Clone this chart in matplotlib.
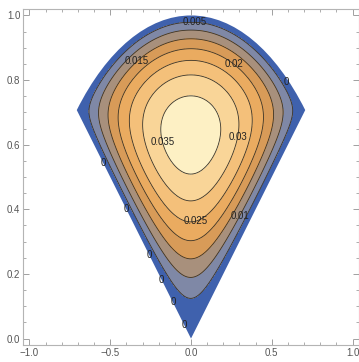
import numpy as np
import matplotlib.pyplot as plt
from matplotlib.patches import Wedge
from matplotlib.ticker import MultipleLocator

plt.rcParams['font.family'] = ['Liberation Sans', 'DejaVu Sans']

# contour levels and the band colours between them (last band is above 0.035)
levels = [0.0, 0.005, 0.01, 0.015, 0.02, 0.025, 0.03, 0.035]
band_colors = ['#3f61ad', '#7f88a6', '#a8907c', '#d89b58',
               '#eaab60', '#f4c07a', '#f9d598', '#fdf0c4']

# -(a*u_xx + u_yy) + c*u = q on the sector 45..135 deg of the unit disk,
# u = 0 on the edge
a = 3.0
c = 16.0
q = 1.63
h = 1 / 250

# label placement for each level
label_pos = {
    0.005: (0.025, 0.981),
    0.01: (0.32, 0.375),
    0.015: (-0.316, 0.848),
    0.02: (0.26, 0.845),
    0.025: (0.04, 0.337),
    0.03: (0.334, 0.619),
    0.035: (-0.19, 0.607),
}
zero_label_r = [0.77, 0.567, 0.364, 0.257, 0.159, 0.06]
zero_arc_deg = 53.2


def cg(apply, b, iters=10000):
    x = np.zeros_like(b)
    r = b - apply(x)
    p = r.copy()
    rs = (r * r).sum()
    for _ in range(iters):
        Ap = apply(p)
        al = rs / (p * Ap).sum()
        x += al * p
        r -= al * Ap
        rn = (r * r).sum()
        if rn < 1e-22:
            break
        p = r + rn / rs * p
        rs = rn
    return x


xs = np.arange(-0.72, 0.72 + h / 2, h)
ys = np.arange(0, 1 + 2 * h, h)
X, Y = np.meshgrid(xs, ys)
inside = (((X**2 + Y**2) < 1) & (Y > np.abs(X))).astype(float)


def operator(v):
    v = v * inside
    w = np.pad(v, 1)
    lx = w[1:-1, 2:] - 2 * v + w[1:-1, :-2]
    ly = w[2:, 1:-1] - 2 * v + w[:-2, 1:-1]
    return (-(a * lx + ly) / h**2 + c * v) * inside


u = cg(operator, q * inside)
u = np.clip(u, 0, None)

fig = plt.figure(figsize=(3.59, 3.62), dpi=100)
ax = fig.add_axes([23 / 359, 17 / 362, 336 / 359, 336 / 362])

sector = Wedge((0, 0), 1, 45, 135, facecolor='none', edgecolor='none')
ax.add_patch(sector)
cf = ax.contourf(X, Y, u, levels=levels + [u.max() + 1], colors=band_colors)
cf.set_clip_path(sector)

ax.set_xlim(-1.04, 1.04)
ax.set_ylim(-0.02, 1.02)

# one line set per level so each label lands on its own curve
for lev, pos in label_pos.items():
    cs = ax.contour(X, Y, u, levels=[lev], colors='#3a3226', linewidths=0.6)
    cs.set_clip_path(sector)
    texts = ax.clabel(cs, manual=[pos], inline=False, fmt='%g',
                      fontsize=7, colors='#222222')
    for tx in texts:
        tx.set_rotation(0)

for rr in zero_label_r:
    ax.text(-rr / np.sqrt(2), rr / np.sqrt(2), '0', ha='center', va='center',
            fontsize=7, color='#222222')
ang = np.radians(zero_arc_deg)
ax.text(0.99 * np.cos(ang), 0.99 * np.sin(ang), '0', ha='center', va='center',
        fontsize=7, color='#222222')

ax.xaxis.set_major_locator(MultipleLocator(0.5))
ax.xaxis.set_minor_locator(MultipleLocator(0.1))
ax.yaxis.set_major_locator(MultipleLocator(0.2))
ax.yaxis.set_minor_locator(MultipleLocator(0.05))
ax.xaxis.set_major_formatter(lambda v, p: f'{v:.1f}'.replace('-', '\u2212'))
ax.yaxis.set_major_formatter(lambda v, p: f'{v:.1f}')

for s in ax.spines.values():
    s.set_color('#b4b4b4')
    s.set_linewidth(0.8)
ax.tick_params(which='both', direction='in', top=True, right=True,
               color='#a0a0a0', labelcolor='#555555', labelsize=7, pad=2)
ax.tick_params(which='major', length=4, width=0.7)
ax.tick_params(which='minor', length=2, width=0.6)

fig.savefig('out.png', dpi=100)
